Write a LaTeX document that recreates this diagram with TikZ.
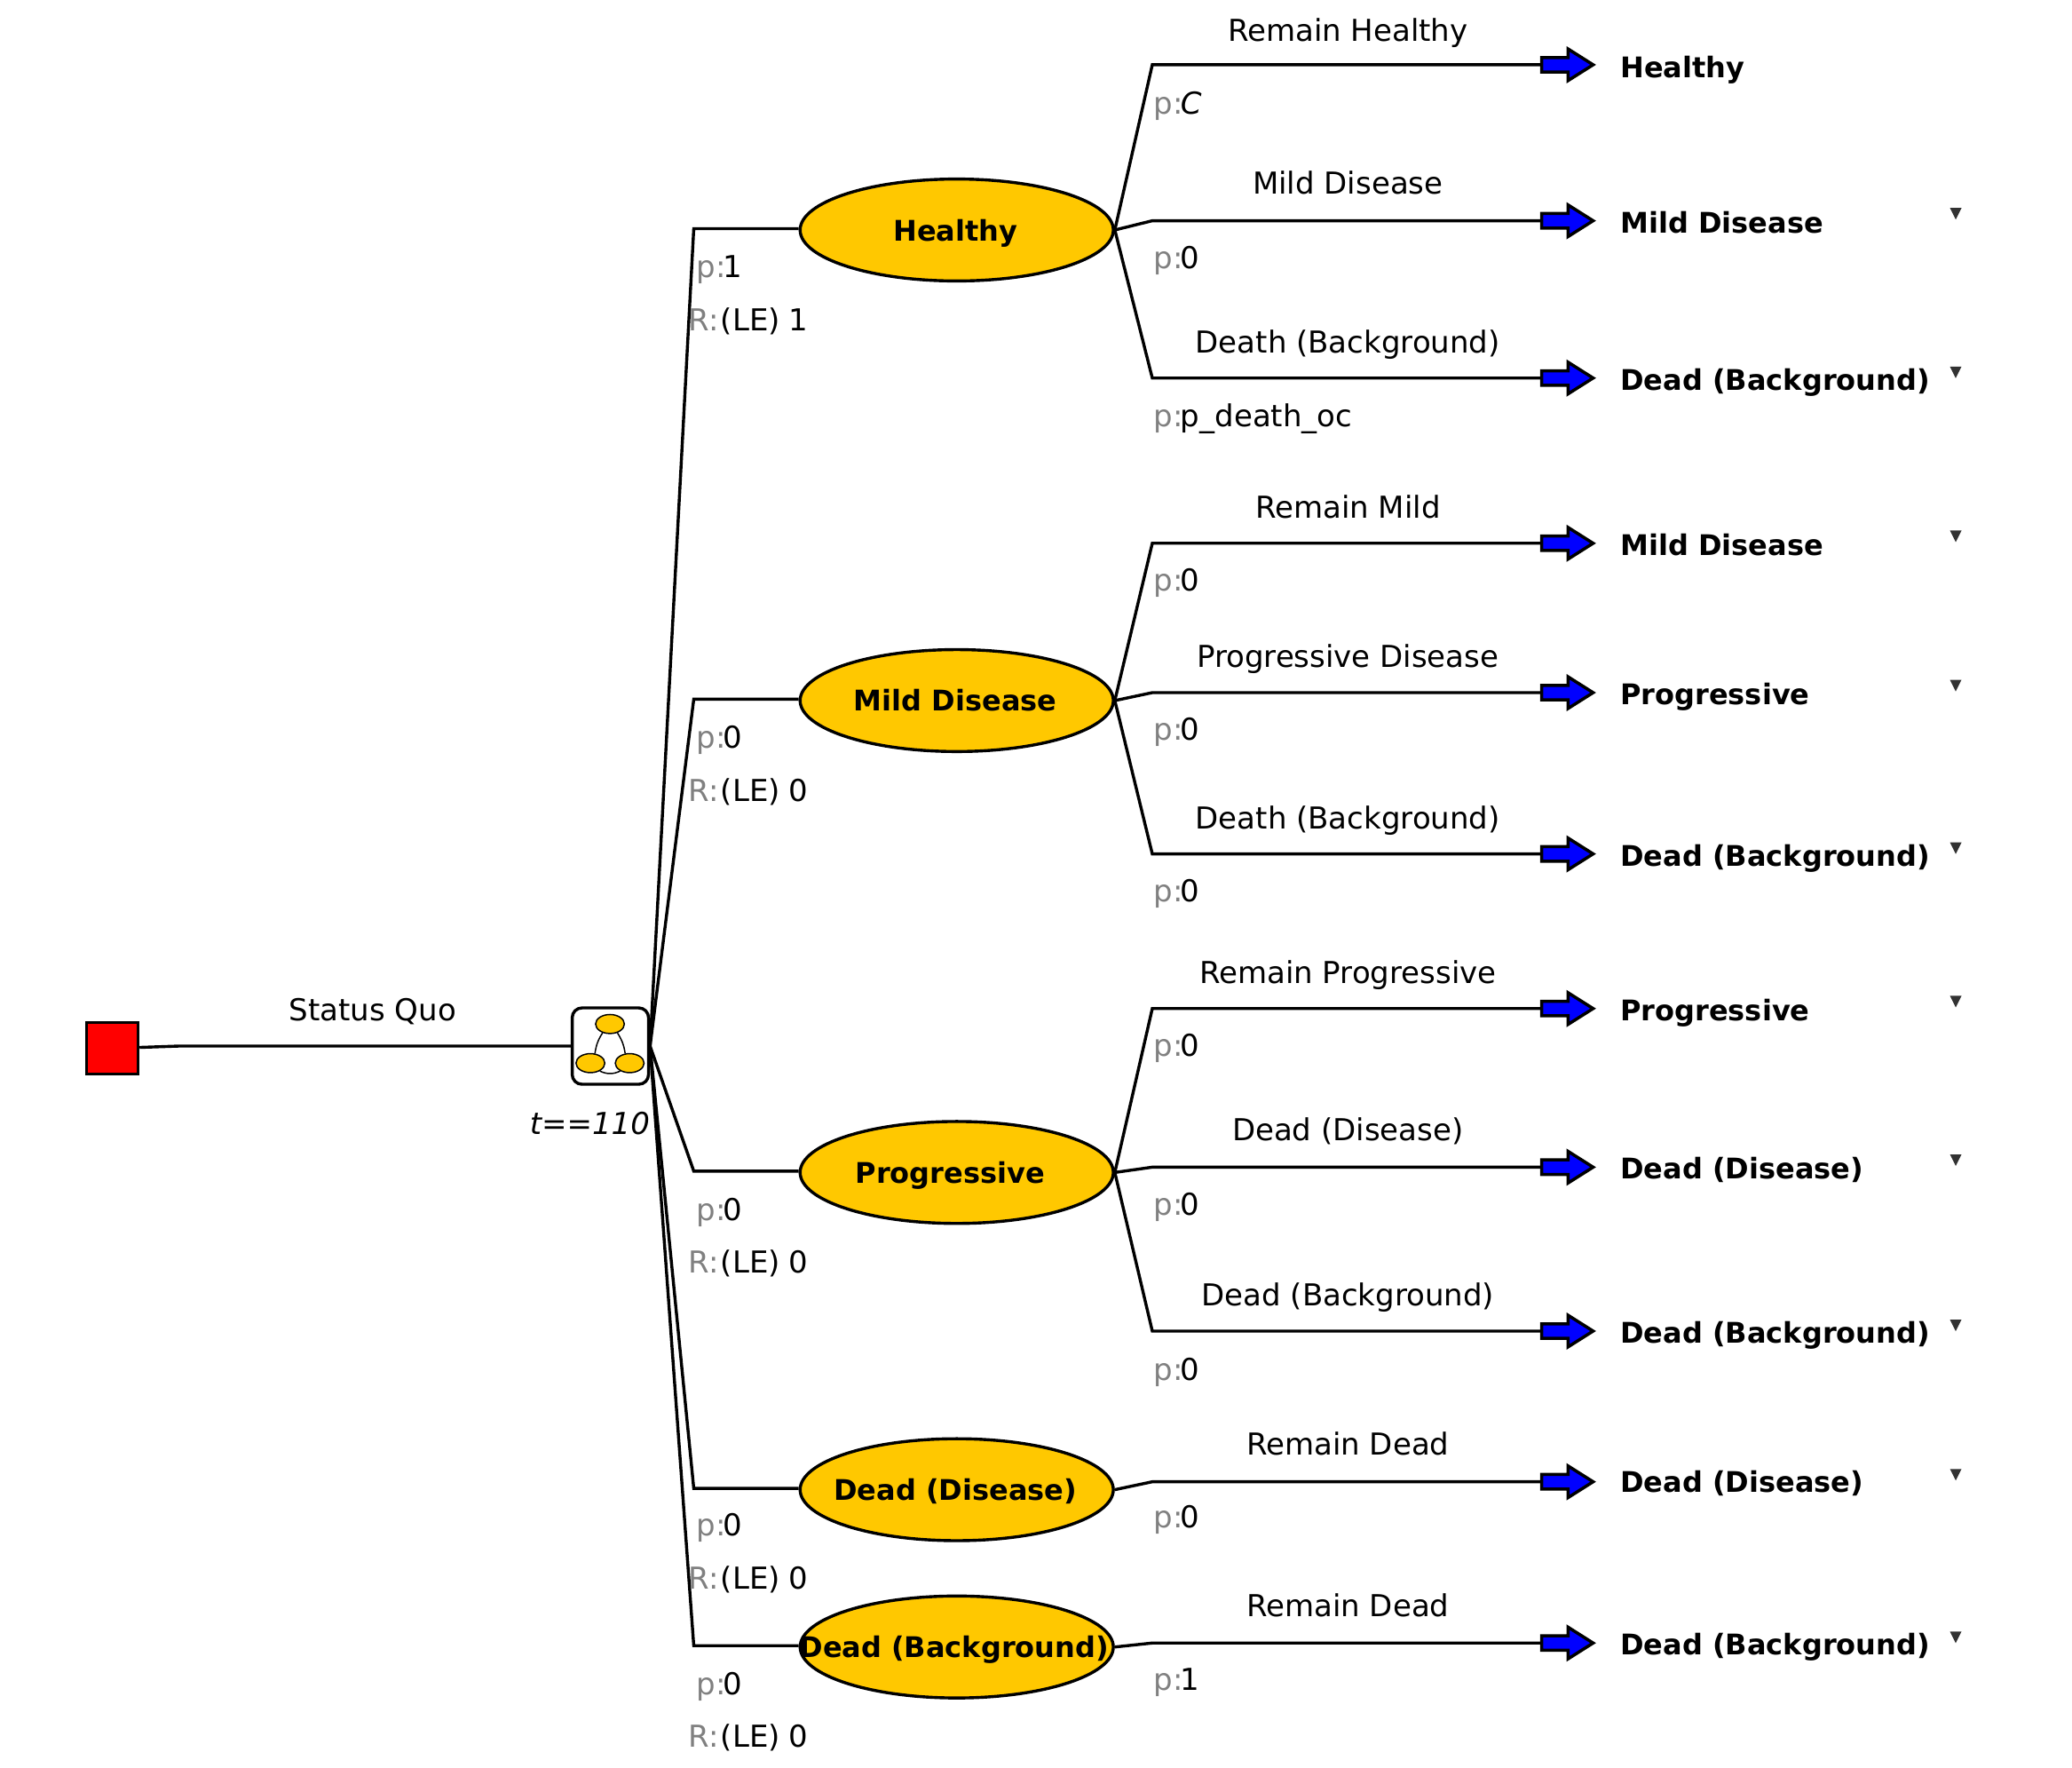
\documentclass[tikz,border=0pt]{standalone}
\usepackage{fontspec}
\setmainfont{DejaVu Sans}
\usetikzlibrary{shapes.geometric}
\definecolor{stfill}{RGB}{255,200,0}
\definecolor{tricol}{RGB}{50,50,50}
\definecolor{pgray}{RGB}{128,128,128}
\tikzset{x=0.74426pt,y=-0.74426pt,
 link/.style={line width=1.7pt,black,line join=miter},
 txt/.style={inner sep=0pt,yshift=-1.5pt,text height=12.4pt,text depth=3.4pt,font=\fontsize{17}{20}\selectfont,text=black},
 lab/.style={txt,anchor=center},
 prob/.style={txt,anchor=west},
 term/.style={txt,anchor=west,font=\fontsize{16}{20}\selectfont\bfseries},
 state/.style={ellipse,draw=black,line width=1.7pt,fill=stfill,minimum width=176.4pt,minimum height=57.4pt,inner sep=0pt},
 stlab/.style={inner sep=0pt,yshift=-1.5pt,text height=12.4pt,text depth=3.4pt,font=\fontsize{16}{20}\selectfont\bfseries},
 endarrow/.style={draw=black,line width=1.75pt,fill=blue,line join=miter},
 tri/.style={isosceles triangle,shape border rotate=-90,fill=tricol,inner sep=0pt,yshift=0.7pt,minimum height=6.5pt,minimum width=6.5pt,isosceles triangle stretches},
 mini/.style={ellipse,draw=black,line width=0.75pt,fill=stfill,minimum width=16.2pt,minimum height=10.7pt,inner sep=0pt},
 minilink/.style={line width=0.75pt,black},
}
\newcommand{\pp}{{\color{pgray}p:}\hspace{-1.5pt}}
\newcommand{\RR}{{\color{pgray}R:}}
\newcommand{\leaf}[7]{% id, ly, labely, label, problabely, prob, target
 \coordinate (e#1) at (872,#2);
 \coordinate (a#1) at (1166.6,#2);
 \draw[link] (#7) -- (e#1) -- (a#1);
 \draw[endarrow] (a#1) ++(0,-5.5) -- ++(20,0) -- ++(0,-6.5) -- ++(19,12) -- ++(-19,12) -- ++(0,-6.5) -- ++(-20,0) -- cycle;
 \node[lab] (l#1) at (1020,#3) {#4};
 \node[prob] (p#1) at (873,#5) {\pp#6};
}
\begin{document}
\begin{tikzpicture}
\useasboundingbox (0,0) rectangle (1568,1336.9);
% root
\node[draw=black,line width=1.7pt,fill=red,minimum size=29pt,inner sep=0pt] (root) at (85,793) {};
\node[draw=black,line width=1.7pt,fill=white,rounded corners=5.5pt,minimum size=43pt,inner sep=0pt] (markov) at (461.9,791.4) {};
\coordinate (r1) at (135,791.4);
\draw[link] (root.east |- 0,792.4) -- (r1) -- (markov.west);
\node[mini] (m1) at (461.6,774.7) {};
\node[mini] (m2) at (446.8,804.3) {};
\node[mini] (m3) at (476.5,804.3) {};
\draw[minilink] (m1.-130) to[bend right=12] (m2.65);
\draw[minilink] (m1.-50) to[bend left=12] (m3.115);
\draw[minilink] (m2.-40) to[bend right=25] (m3.-140);
\node[lab] (sq) at (282,764) {Status Quo};
\node[txt,anchor=east,font=\fontsize{17}{20}\selectfont\itshape] (tt) at (492,850) {t==110};
% states
\foreach \id/\y/\ty in {h/174/173,m/530/529,g/887/886,d/1127/1126,b/1246/1245}{
 \node[state] (\id) at (724,\y) {};
 \coordinate (c\id) at (525,\ty);
 \draw[link] (markov.east) -- (c\id) -- (\id.west |- c\id);
}
\node[stlab] (th) at (723,174) {Healthy};
\node[stlab] (tm) at (723,530) {Mild Disease};
\node[stlab] (tg) at (719,887) {Progressive};
\node[stlab] (td) at (723,1127) {Dead (Disease)};
\node[stlab] (tb) at (722,1246) {Dead (Background)};
% state labels
\foreach \i/\y/\v in {1/202/1,2/558/0,3/915/0,4/1154/0,5/1274/0}{\node[prob] (sp\i) at (527,\y) {\pp\v};}
\foreach \i/\y/\v in {1/242/1,2/598/0,3/955/0,4/1194/0,5/1314/0}{\node[prob] (sr\i) at (521,\y) {\RR\hspace{1pt}(LE)\hspace{5pt}\v};}
% leaves
\leaf{1}{49}{23}{Remain Healthy}{78}{\textit{C}}{h.east}
\leaf{2}{167}{139}{Mild Disease}{195}{0}{h.east}
\leaf{3}{286}{259}{Death (Background)}{315}{p\_death\_oc}{h.east}
\leaf{4}{411}{384}{Remain Mild}{439}{0}{m.east}
\leaf{5}{524}{497}{Progressive Disease}{552}{0}{m.east}
\leaf{6}{646}{619}{Death (Background)}{674}{0}{m.east}
\leaf{7}{763}{736}{Remain Progressive}{791}{0}{g.east}
\leaf{8}{883}{855}{Dead (Disease)}{911}{0}{g.east}
\leaf{9}{1007}{980}{Dead (Background)}{1036}{0}{g.east}
\leaf{10}{1121}{1093}{Remain Dead}{1148}{0}{d.east}
\leaf{11}{1243}{1215}{Remain Dead}{1271}{1}{b.east}
% targets
\foreach \i/\y/\n in {1/51/Healthy,2/168/Mild Disease,3/287/Dead (Background),4/412/Mild Disease,5/525/Progressive,6/647/Dead (Background),7/764/Progressive,8/884/Dead (Disease),9/1008/Dead (Background),10/1121/Dead (Disease),11/1244/Dead (Background)}{\node[term] (t\i) at (1226,\y) {\n};}
\foreach \i/\y in {2/161,3/281,4/405,5/518,6/641,7/757,8/877,9/1002,10/1115,11/1238}{\node[tri] (k\i) at (1480,\y) {};}
\end{tikzpicture}
\end{document}
